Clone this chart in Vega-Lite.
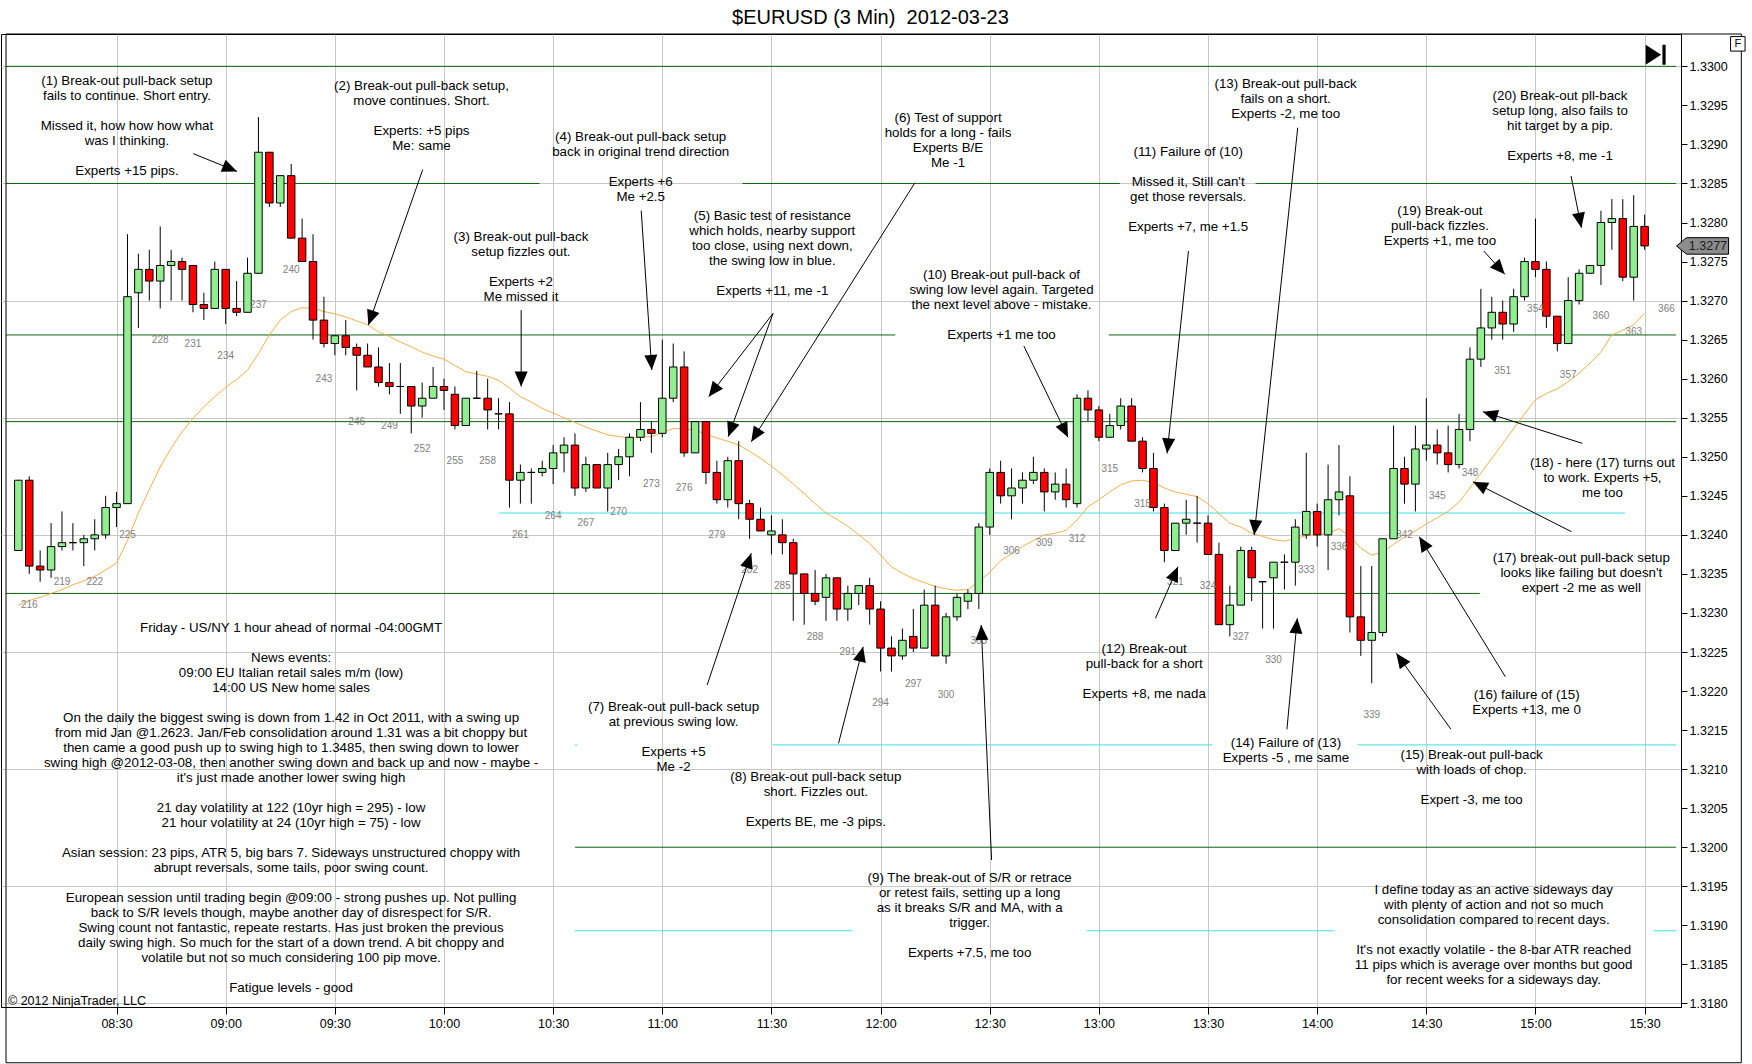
{
  "$schema": "https://vega.github.io/schema/vega-lite/v6.json",
  "width": 1680,
  "height": 973,
  "autosize": {"type": "none"},
  "padding": {"left": 1, "top": 34, "right": 71, "bottom": 57},
  "background": "white",
  "config": {
    "font": "Liberation Sans",
    "view": {"stroke": "black", "strokeWidth": 1}
  },
  "resolve": {"axis": {"x": "independent", "y": "independent"}},
  "datasets": {
    "candles": [
      {"bar":215,"open":1.3238,"high":1.3247,"low":1.3238,"close":1.3247,"ema":1.3231},
      {"bar":216,"open":1.3247,"high":1.32475,"low":1.3235,"close":1.3236,"ema":1.32316},
      {"bar":217,"open":1.3236,"high":1.3238,"low":1.3234,"close":1.32355,"ema":1.3232},
      {"bar":218,"open":1.32355,"high":1.32415,"low":1.32345,"close":1.32385,"ema":1.32325},
      {"bar":219,"open":1.32385,"high":1.3243,"low":1.3238,"close":1.3239,"ema":1.3233},
      {"bar":220,"open":1.3239,"high":1.32415,"low":1.3238,"close":1.3239,"ema":1.32336},
      {"bar":221,"open":1.3239,"high":1.324,"low":1.3236,"close":1.32395,"ema":1.32341},
      {"bar":222,"open":1.32395,"high":1.3242,"low":1.3238,"close":1.324,"ema":1.32347},
      {"bar":223,"open":1.324,"high":1.3245,"low":1.32395,"close":1.32435,"ema":1.32355},
      {"bar":224,"open":1.32435,"high":1.32455,"low":1.3241,"close":1.3244,"ema":1.32364},
      {"bar":225,"open":1.3244,"high":1.32785,"low":1.3244,"close":1.32705,"ema":1.32393},
      {"bar":226,"open":1.3271,"high":1.3276,"low":1.32665,"close":1.3274,"ema":1.32428},
      {"bar":227,"open":1.3274,"high":1.32765,"low":1.327,"close":1.32725,"ema":1.32458},
      {"bar":228,"open":1.32725,"high":1.32795,"low":1.3269,"close":1.32745,"ema":1.32487},
      {"bar":229,"open":1.32745,"high":1.32765,"low":1.327,"close":1.3275,"ema":1.32511},
      {"bar":230,"open":1.3275,"high":1.32755,"low":1.327,"close":1.3274,"ema":1.32532},
      {"bar":231,"open":1.32745,"high":1.32745,"low":1.32685,"close":1.32695,"ema":1.32549},
      {"bar":232,"open":1.32695,"high":1.3271,"low":1.32675,"close":1.3269,"ema":1.32564},
      {"bar":233,"open":1.3269,"high":1.3275,"low":1.3269,"close":1.3274,"ema":1.32577},
      {"bar":234,"open":1.3274,"high":1.3274,"low":1.3267,"close":1.3269,"ema":1.32589},
      {"bar":235,"open":1.3269,"high":1.32725,"low":1.3268,"close":1.32685,"ema":1.32599},
      {"bar":236,"open":1.32685,"high":1.32755,"low":1.32685,"close":1.32735,"ema":1.32611},
      {"bar":237,"open":1.32735,"high":1.32935,"low":1.32735,"close":1.3289,"ema":1.32632},
      {"bar":238,"open":1.3289,"high":1.3289,"low":1.3282,"close":1.32825,"ema":1.32656},
      {"bar":239,"open":1.32825,"high":1.3286,"low":1.3282,"close":1.3286,"ema":1.32675},
      {"bar":240,"open":1.3286,"high":1.32875,"low":1.3278,"close":1.3278,"ema":1.32686},
      {"bar":241,"open":1.3278,"high":1.32805,"low":1.3275,"close":1.3275,"ema":1.32691},
      {"bar":242,"open":1.3275,"high":1.32785,"low":1.3265,"close":1.32675,"ema":1.3269},
      {"bar":243,"open":1.32675,"high":1.32705,"low":1.3264,"close":1.32645,"ema":1.32686},
      {"bar":244,"open":1.32645,"high":1.32655,"low":1.3263,"close":1.32655,"ema":1.32683},
      {"bar":245,"open":1.32655,"high":1.32675,"low":1.3263,"close":1.3264,"ema":1.32679},
      {"bar":246,"open":1.3264,"high":1.32645,"low":1.32585,"close":1.3263,"ema":1.32674},
      {"bar":247,"open":1.3263,"high":1.32645,"low":1.32615,"close":1.32615,"ema":1.32669},
      {"bar":248,"open":1.32615,"high":1.3264,"low":1.3259,"close":1.32595,"ema":1.3266},
      {"bar":249,"open":1.32595,"high":1.3262,"low":1.3258,"close":1.3259,"ema":1.32654},
      {"bar":250,"open":1.3259,"high":1.3262,"low":1.32555,"close":1.3259,"ema":1.32647},
      {"bar":251,"open":1.3259,"high":1.3259,"low":1.3253,"close":1.32565,"ema":1.32641},
      {"bar":252,"open":1.32565,"high":1.32595,"low":1.3255,"close":1.32575,"ema":1.32634},
      {"bar":253,"open":1.32575,"high":1.32615,"low":1.32575,"close":1.3259,"ema":1.32629},
      {"bar":254,"open":1.3259,"high":1.326,"low":1.3256,"close":1.32585,"ema":1.32625},
      {"bar":255,"open":1.3258,"high":1.3259,"low":1.32535,"close":1.3254,"ema":1.32617},
      {"bar":256,"open":1.3254,"high":1.32575,"low":1.3254,"close":1.32575,"ema":1.32609},
      {"bar":257,"open":1.32575,"high":1.3261,"low":1.32575,"close":1.32575,"ema":1.32606},
      {"bar":258,"open":1.32575,"high":1.326,"low":1.32535,"close":1.3256,"ema":1.32603},
      {"bar":259,"open":1.32555,"high":1.32575,"low":1.32535,"close":1.32555,"ema":1.32598},
      {"bar":260,"open":1.32555,"high":1.3257,"low":1.32435,"close":1.3247,"ema":1.32588},
      {"bar":261,"open":1.3247,"high":1.3249,"low":1.3244,"close":1.3248,"ema":1.32577},
      {"bar":262,"open":1.3248,"high":1.32485,"low":1.3244,"close":1.3248,"ema":1.3257},
      {"bar":263,"open":1.3248,"high":1.32495,"low":1.32475,"close":1.32485,"ema":1.32562},
      {"bar":264,"open":1.32485,"high":1.32515,"low":1.32465,"close":1.32505,"ema":1.32556},
      {"bar":265,"open":1.32505,"high":1.32525,"low":1.3248,"close":1.32515,"ema":1.3255},
      {"bar":266,"open":1.32515,"high":1.3253,"low":1.3245,"close":1.3246,"ema":1.32544},
      {"bar":267,"open":1.3246,"high":1.325,"low":1.32455,"close":1.3249,"ema":1.32538},
      {"bar":268,"open":1.3249,"high":1.3249,"low":1.3246,"close":1.3246,"ema":1.32533},
      {"bar":269,"open":1.3246,"high":1.32505,"low":1.3243,"close":1.3249,"ema":1.32528},
      {"bar":270,"open":1.3249,"high":1.3251,"low":1.3247,"close":1.325,"ema":1.32526},
      {"bar":271,"open":1.325,"high":1.3253,"low":1.32475,"close":1.32525,"ema":1.32524},
      {"bar":272,"open":1.32525,"high":1.3257,"low":1.3252,"close":1.32535,"ema":1.32525},
      {"bar":273,"open":1.32535,"high":1.32545,"low":1.32505,"close":1.3253,"ema":1.32526},
      {"bar":274,"open":1.3253,"high":1.3265,"low":1.32525,"close":1.32575,"ema":1.32531},
      {"bar":275,"open":1.32575,"high":1.32645,"low":1.3257,"close":1.32615,"ema":1.32536},
      {"bar":276,"open":1.32615,"high":1.32635,"low":1.325,"close":1.32505,"ema":1.32536},
      {"bar":277,"open":1.32505,"high":1.32545,"low":1.32505,"close":1.32545,"ema":1.32534},
      {"bar":278,"open":1.32545,"high":1.32545,"low":1.32465,"close":1.3248,"ema":1.32529},
      {"bar":279,"open":1.3248,"high":1.32495,"low":1.3244,"close":1.32445,"ema":1.32524},
      {"bar":280,"open":1.32445,"high":1.325,"low":1.32435,"close":1.32495,"ema":1.3252},
      {"bar":281,"open":1.32495,"high":1.3252,"low":1.3242,"close":1.3244,"ema":1.32515},
      {"bar":282,"open":1.3244,"high":1.32445,"low":1.32395,"close":1.3242,"ema":1.32507},
      {"bar":283,"open":1.3242,"high":1.32435,"low":1.32405,"close":1.32405,"ema":1.32498},
      {"bar":284,"open":1.324,"high":1.32425,"low":1.32375,"close":1.32405,"ema":1.32488},
      {"bar":285,"open":1.324,"high":1.3242,"low":1.32375,"close":1.3239,"ema":1.32477},
      {"bar":286,"open":1.3239,"high":1.32395,"low":1.3229,"close":1.3235,"ema":1.32465},
      {"bar":287,"open":1.3235,"high":1.3235,"low":1.32285,"close":1.32325,"ema":1.32453},
      {"bar":288,"open":1.32325,"high":1.32355,"low":1.3231,"close":1.32315,"ema":1.3244},
      {"bar":289,"open":1.3232,"high":1.3235,"low":1.3229,"close":1.32345,"ema":1.32428},
      {"bar":290,"open":1.32345,"high":1.32345,"low":1.3229,"close":1.32305,"ema":1.3242},
      {"bar":291,"open":1.32305,"high":1.32335,"low":1.3229,"close":1.32325,"ema":1.32411},
      {"bar":292,"open":1.32325,"high":1.32335,"low":1.3231,"close":1.32335,"ema":1.324},
      {"bar":293,"open":1.32335,"high":1.32345,"low":1.32285,"close":1.32305,"ema":1.32389},
      {"bar":294,"open":1.32305,"high":1.32315,"low":1.32225,"close":1.32255,"ema":1.32374},
      {"bar":295,"open":1.32255,"high":1.3227,"low":1.32225,"close":1.32245,"ema":1.32359},
      {"bar":296,"open":1.32245,"high":1.3228,"low":1.3224,"close":1.32265,"ema":1.32351},
      {"bar":297,"open":1.3227,"high":1.32305,"low":1.3225,"close":1.32255,"ema":1.32344},
      {"bar":298,"open":1.32255,"high":1.3233,"low":1.32255,"close":1.3231,"ema":1.32339},
      {"bar":299,"open":1.3231,"high":1.32335,"low":1.32245,"close":1.32245,"ema":1.32334},
      {"bar":300,"open":1.32245,"high":1.323,"low":1.32235,"close":1.32295,"ema":1.32331},
      {"bar":301,"open":1.32295,"high":1.32325,"low":1.3229,"close":1.3232,"ema":1.32329},
      {"bar":302,"open":1.32315,"high":1.3233,"low":1.32305,"close":1.32325,"ema":1.3233},
      {"bar":303,"open":1.32325,"high":1.32415,"low":1.32305,"close":1.3241,"ema":1.3234},
      {"bar":304,"open":1.3241,"high":1.32485,"low":1.324,"close":1.3248,"ema":1.32352},
      {"bar":305,"open":1.3248,"high":1.32495,"low":1.3244,"close":1.3245,"ema":1.32367},
      {"bar":306,"open":1.3245,"high":1.32485,"low":1.3242,"close":1.3246,"ema":1.32376},
      {"bar":307,"open":1.3246,"high":1.3248,"low":1.3244,"close":1.3247,"ema":1.32385},
      {"bar":308,"open":1.3247,"high":1.325,"low":1.32465,"close":1.3248,"ema":1.32393},
      {"bar":309,"open":1.3248,"high":1.32485,"low":1.3243,"close":1.32455,"ema":1.324},
      {"bar":310,"open":1.32455,"high":1.3248,"low":1.32445,"close":1.32465,"ema":1.32402},
      {"bar":311,"open":1.32465,"high":1.32485,"low":1.32435,"close":1.32445,"ema":1.32406},
      {"bar":312,"open":1.3244,"high":1.3258,"low":1.32435,"close":1.32575,"ema":1.32419},
      {"bar":313,"open":1.32575,"high":1.32585,"low":1.32545,"close":1.3256,"ema":1.32436},
      {"bar":314,"open":1.3256,"high":1.32565,"low":1.3252,"close":1.32525,"ema":1.32445},
      {"bar":315,"open":1.32525,"high":1.32555,"low":1.32525,"close":1.3254,"ema":1.32455},
      {"bar":316,"open":1.3254,"high":1.32575,"low":1.32535,"close":1.32565,"ema":1.32464},
      {"bar":317,"open":1.32565,"high":1.32575,"low":1.3252,"close":1.3252,"ema":1.32469},
      {"bar":318,"open":1.3252,"high":1.32525,"low":1.3248,"close":1.32485,"ema":1.3247},
      {"bar":319,"open":1.32485,"high":1.32505,"low":1.3243,"close":1.32435,"ema":1.32467},
      {"bar":320,"open":1.32435,"high":1.3244,"low":1.32365,"close":1.3238,"ema":1.3246},
      {"bar":321,"open":1.3238,"high":1.32415,"low":1.3238,"close":1.32415,"ema":1.32455},
      {"bar":322,"open":1.32415,"high":1.32445,"low":1.324,"close":1.3242,"ema":1.32452},
      {"bar":323,"open":1.32415,"high":1.3245,"low":1.3239,"close":1.32415,"ema":1.32449},
      {"bar":324,"open":1.32415,"high":1.32425,"low":1.32375,"close":1.32375,"ema":1.3244},
      {"bar":325,"open":1.32375,"high":1.3239,"low":1.32285,"close":1.32285,"ema":1.32427},
      {"bar":326,"open":1.32285,"high":1.32335,"low":1.3227,"close":1.3231,"ema":1.32415},
      {"bar":327,"open":1.3231,"high":1.32385,"low":1.3231,"close":1.3238,"ema":1.3241},
      {"bar":328,"open":1.3238,"high":1.32385,"low":1.32315,"close":1.32345,"ema":1.32402},
      {"bar":329,"open":1.3234,"high":1.3234,"low":1.3228,"close":1.3234,"ema":1.32398},
      {"bar":330,"open":1.32345,"high":1.32365,"low":1.3228,"close":1.32365,"ema":1.32394},
      {"bar":331,"open":1.32365,"high":1.32375,"low":1.3233,"close":1.32365,"ema":1.32392},
      {"bar":332,"open":1.32365,"high":1.3242,"low":1.32335,"close":1.3241,"ema":1.32395},
      {"bar":333,"open":1.324,"high":1.32505,"low":1.32395,"close":1.3243,"ema":1.32399},
      {"bar":334,"open":1.3243,"high":1.3244,"low":1.32385,"close":1.324,"ema":1.324},
      {"bar":335,"open":1.324,"high":1.3249,"low":1.32355,"close":1.32445,"ema":1.32402},
      {"bar":336,"open":1.32445,"high":1.32515,"low":1.32425,"close":1.32455,"ema":1.32408},
      {"bar":337,"open":1.3245,"high":1.32475,"low":1.32275,"close":1.32295,"ema":1.32398},
      {"bar":338,"open":1.32295,"high":1.3236,"low":1.32245,"close":1.32265,"ema":1.32383},
      {"bar":339,"open":1.32265,"high":1.3236,"low":1.3221,"close":1.32275,"ema":1.32374},
      {"bar":340,"open":1.32275,"high":1.32395,"low":1.3227,"close":1.32395,"ema":1.32378},
      {"bar":341,"open":1.32395,"high":1.3254,"low":1.32395,"close":1.32485,"ema":1.32388},
      {"bar":342,"open":1.32485,"high":1.325,"low":1.3244,"close":1.32465,"ema":1.32397},
      {"bar":343,"open":1.32465,"high":1.3254,"low":1.3243,"close":1.3251,"ema":1.32405},
      {"bar":344,"open":1.3251,"high":1.32575,"low":1.32495,"close":1.32515,"ema":1.32414},
      {"bar":345,"open":1.32515,"high":1.32535,"low":1.3249,"close":1.32505,"ema":1.32422},
      {"bar":346,"open":1.32505,"high":1.3254,"low":1.3248,"close":1.3249,"ema":1.3243},
      {"bar":347,"open":1.3249,"high":1.32555,"low":1.32485,"close":1.32535,"ema":1.32442},
      {"bar":348,"open":1.32535,"high":1.3264,"low":1.3252,"close":1.32625,"ema":1.3246},
      {"bar":349,"open":1.32625,"high":1.32715,"low":1.32615,"close":1.32665,"ema":1.32479},
      {"bar":350,"open":1.32665,"high":1.32705,"low":1.3265,"close":1.32685,"ema":1.32498},
      {"bar":351,"open":1.32685,"high":1.327,"low":1.3265,"close":1.3267,"ema":1.32517},
      {"bar":352,"open":1.3267,"high":1.32715,"low":1.3266,"close":1.32705,"ema":1.32536},
      {"bar":353,"open":1.32705,"high":1.32755,"low":1.327,"close":1.3275,"ema":1.32555},
      {"bar":354,"open":1.3275,"high":1.32805,"low":1.3273,"close":1.3274,"ema":1.32573},
      {"bar":355,"open":1.3274,"high":1.3275,"low":1.32665,"close":1.3268,"ema":1.32581},
      {"bar":356,"open":1.3268,"high":1.3268,"low":1.32635,"close":1.32645,"ema":1.32587},
      {"bar":357,"open":1.32645,"high":1.3273,"low":1.32645,"close":1.327,"ema":1.32596},
      {"bar":358,"open":1.327,"high":1.3274,"low":1.32695,"close":1.32735,"ema":1.32607},
      {"bar":359,"open":1.32735,"high":1.32745,"low":1.32735,"close":1.32745,"ema":1.3262},
      {"bar":360,"open":1.32745,"high":1.32815,"low":1.3272,"close":1.328,"ema":1.32634},
      {"bar":361,"open":1.328,"high":1.3283,"low":1.32765,"close":1.32805,"ema":1.32656},
      {"bar":362,"open":1.32805,"high":1.3283,"low":1.32725,"close":1.3273,"ema":1.32662},
      {"bar":363,"open":1.3273,"high":1.32835,"low":1.327,"close":1.32795,"ema":1.32669},
      {"bar":364,"open":1.32795,"high":1.3281,"low":1.32765,"close":1.3277,"ema":1.32684}
    ],
    "levels": [
      {"price":1.33,"fromBar":213.871,"toBar":366.876,"kind":"S/R"},
      {"price":1.3285,"fromBar":213.871,"toBar":262.75,"kind":"S/R"},
      {"price":1.3285,"fromBar":281.36,"toBar":315.92,"kind":"S/R"},
      {"price":1.3285,"fromBar":328.35,"toBar":366.876,"kind":"S/R"},
      {"price":1.32656,"fromBar":213.871,"toBar":295.35,"kind":"S/R"},
      {"price":1.32656,"fromBar":314.9,"toBar":366.876,"kind":"S/R"},
      {"price":1.32545,"fromBar":213.871,"toBar":366.876,"kind":"S/R"},
      {"price":1.32325,"fromBar":213.871,"toBar":348.9,"kind":"S/R"},
      {"price":1.32,"fromBar":266.0,"toBar":366.876,"kind":"S/R"},
      {"price":1.32428,"fromBar":259.05,"toBar":362.2,"kind":"swing"},
      {"price":1.32131,"fromBar":266.0,"toBar":266.2,"kind":"swing"},
      {"price":1.32131,"fromBar":284.1,"toBar":324.4,"kind":"swing"},
      {"price":1.32131,"fromBar":337.7,"toBar":366.876,"kind":"swing"},
      {"price":1.31893,"fromBar":266.0,"toBar":291.4,"kind":"swing"},
      {"price":1.31893,"fromBar":312.9,"toBar":335.6,"kind":"swing"},
      {"price":1.31893,"fromBar":364.8,"toBar":366.876,"kind":"swing"}
    ],
    "arrows": [
      {"fromBar":231.03,"fromPrice":1.328882,"toBar":235.04,"toPrice":1.328654},
      {"fromBar":252.05,"fromPrice":1.328677,"toBar":247.07,"toPrice":1.326687},
      {"fromBar":261.07,"fromPrice":1.326879,"toBar":261.07,"toPrice":1.325901},
      {"fromBar":272.07,"fromPrice":1.328151,"toBar":273.04,"toPrice":1.326111},
      {"fromBar":284.15,"fromPrice":1.326837,"toBar":278.25,"toPrice":1.325769},
      {"fromBar":284.15,"fromPrice":1.326837,"toBar":280.04,"toPrice":1.325257},
      {"fromBar":297.15,"fromPrice":1.328509,"toBar":282.15,"toPrice":1.325193},
      {"fromBar":278.11,"fromPrice":1.322077,"toBar":282.15,"toPrice":1.323764},
      {"fromBar":290.15,"fromPrice":1.321331,"toBar":292.4,"toPrice":1.322567},
      {"fromBar":304.17,"fromPrice":1.319836,"toBar":303.22,"toPrice":1.322846},
      {"fromBar":307.13,"fromPrice":1.326418,"toBar":311.17,"toPrice":1.325249},
      {"fromBar":322.21,"fromPrice":1.327635,"toBar":320.25,"toPrice":1.325044},
      {"fromBar":319.18,"fromPrice":1.322931,"toBar":321.25,"toPrice":1.323592},
      {"fromBar":332.22,"fromPrice":1.329214,"toBar":328.23,"toPrice":1.323998},
      {"fromBar":331.23,"fromPrice":1.32151,"toBar":332.18,"toPrice":1.322931},
      {"fromBar":346.26,"fromPrice":1.32151,"toBar":341.25,"toPrice":1.322483},
      {"fromBar":351.24,"fromPrice":1.322183,"toBar":343.35,"toPrice":1.323976},
      {"fromBar":357.31,"fromPrice":1.32404,"toBar":348.27,"toPrice":1.32468},
      {"fromBar":358.29,"fromPrice":1.325172,"toBar":349.18,"toPrice":1.325577},
      {"fromBar":349.27,"fromPrice":1.327635,"toBar":351.19,"toPrice":1.327336},
      {"fromBar":357.26,"fromPrice":1.328595,"toBar":358.21,"toPrice":1.327933}
    ],
    "notes": [
      {"bar":224.95,"price":1.3299,"note":"(1) Break-out pull-back setup\nfails to continue. Short entry."},
      {"bar":224.95,"price":1.329324,"note":"Missed it, how how how what\nwas I thinking."},
      {"bar":224.95,"price":1.328747,"note":"Experts +15 pips."},
      {"bar":251.94,"price":1.329832,"note":"(2) Break-out pull-back setup,\nmove continues. Short."},
      {"bar":251.94,"price":1.329256,"note":"Experts: +5 pips\nMe: same"},
      {"bar":261.05,"price":1.327902,"note":"(3) Break-out pull-back\nsetup fizzles out."},
      {"bar":261.05,"price":1.327326,"note":"Experts +2\nMe missed it"},
      {"bar":272.02,"price":1.329179,"note":"(4) Break-out pull-back setup\nback in original trend direction"},
      {"bar":272.02,"price":1.328603,"note":"Experts +6\nMe +2.5"},
      {"bar":284.08,"price":1.328167,"note":"(5) Basic test of resistance\nwhich holds, nearby support\ntoo close, using next down,\nthe swing low in blue."},
      {"bar":284.08,"price":1.327207,"note":"Experts +11, me -1"},
      {"bar":300.18,"price":1.329422,"note":"(6) Test of support\nholds for a long - fails\nExperts B/E\nMe -1"},
      {"bar":275.03,"price":1.32188,"note":"(7) Break-out pull-back setup\nat previous swing low."},
      {"bar":275.03,"price":1.321304,"note":"Experts +5\nMe -2"},
      {"bar":288.07,"price":1.320983,"note":"(8) Break-out pull-back setup\nshort. Fizzles out."},
      {"bar":288.07,"price":1.320407,"note":"Experts BE, me -3 pips."},
      {"bar":302.16,"price":1.31969,"note":"(9) The break-out of S/R or retrace\nor retest fails, setting up a long\nas it breaks S/R and MA, with a\ntrigger."},
      {"bar":302.16,"price":1.31873,"note":"Experts +7.5, me too"},
      {"bar":305.08,"price":1.327417,"note":"(10) Break-out pull-back of\nswing low level again. Targeted\nthe next level above - mistake."},
      {"bar":305.08,"price":1.326649,"note":"Experts +1 me too"},
      {"bar":322.18,"price":1.328987,"note":"(11) Failure of (10)"},
      {"bar":322.18,"price":1.328603,"note":"Missed it, Still can't\nget those reversals."},
      {"bar":322.18,"price":1.328027,"note":"Experts +7, me +1.5"},
      {"bar":318.15,"price":1.322623,"note":"(12) Break-out\npull-back for a short"},
      {"bar":318.15,"price":1.322047,"note":"Experts +8, me nada"},
      {"bar":331.11,"price":1.329858,"note":"(13) Break-out pull-back\nfails on a short.\nExperts -2, me too"},
      {"bar":331.14,"price":1.321424,"note":"(14) Failure of (13)\nExperts -5 , me same"},
      {"bar":348.15,"price":1.32127,"note":"(15) Break-out pull-back\nwith loads of chop."},
      {"bar":348.15,"price":1.320694,"note":"Expert -3, me too"},
      {"bar":353.19,"price":1.322039,"note":"(16) failure of (15)\nExperts +13, me 0"},
      {"bar":358.2,"price":1.323788,"note":"(17) break-out pull-back setup\nlooks like failing but doesn't\nexpert -2 me as well"},
      {"bar":360.14,"price":1.325004,"note":"(18) - here (17) turns out\nto work. Experts +5,\nme too"},
      {"bar":345.25,"price":1.328237,"note":"(19) Break-out\npull-back fizzles.\nExperts +1, me too"},
      {"bar":356.25,"price":1.329713,"note":"(20) Break-out pll-back\nsetup long, also fails to\nhit target by a pip."},
      {"bar":356.25,"price":1.328945,"note":"Experts +8, me -1"},
      {"bar":239.99,"price":1.322897,"note":"Friday - US/NY 1 hour ahead of normal -04:00GMT"},
      {"bar":239.99,"price":1.322513,"note":"News events:\n09:00 EU Italian retail sales m/m (low)\n14:00 US New home sales"},
      {"bar":239.99,"price":1.321744,"note":"On the daily the biggest swing is down from 1.42 in Oct 2011, with a swing up\nfrom mid Jan @1.2623. Jan/Feb consolidation around 1.31 was a bit choppy but\nthen came a good push up to swing high to 1.3485, then swing down to lower\nswing high @2012-03-08, then another swing down and back up and now - maybe -\nit's just made another lower swing high"},
      {"bar":239.99,"price":1.320592,"note":"21 day volatility at 122 (10yr high = 295) - low\n21 hour volatility at 24 (10yr high = 75) - low"},
      {"bar":239.99,"price":1.320016,"note":"Asian session: 23 pips, ATR 5, big bars 7. Sideways unstructured choppy with\nabrupt reversals, some tails, poor swing count."},
      {"bar":239.99,"price":1.319439,"note":"European session until trading begin @09:00 - strong pushes up. Not pulling\nback to S/R levels though, maybe another day of disrespect for S/R.\nSwing count not fantastic, repeate restarts. Has just broken the previous\ndaily swing high. So much for the start of a down trend. A bit choppy and\nvolatile but not so much considering 100 pip move."},
      {"bar":239.99,"price":1.318287,"note":"Fatigue levels - good"},
      {"bar":350.17,"price":1.319542,"note":"I define today as an active sideways day\nwith plenty of action and not so much\nconsolidation compared to recent days."},
      {"bar":350.17,"price":1.318774,"note":"It's not exactly volatile - the 8-bar ATR reached\n11 pips which is average over months but good\nfor recent weeks for a sideways day."}
    ]
  },
  "layer": [
    {
      "data": {"name": "levels"},
      "mark": {"type": "rule", "strokeWidth": 1},
      "encoding": {
        "x": {
          "field": "fromBar", "type": "quantitative",
          "scale": {"domain": [213.871, 366.876], "nice": false, "zero": false},
          "axis": {
            "title": null,
            "values": [224, 234, 244, 254, 264, 274, 284, 294, 304, 314, 324, 334, 344, 354, 364],
            "labelExpr": "timeFormat(datetime(2012, 2, 23, 8, 30 + (datum.value - 224) * 3), '%H:%M')",
            "grid": true, "gridColor": "#C8C8C8", "gridWidth": 1,
            "domainColor": "black", "tickColor": "black", "tickSize": 7,
            "labelColor": "black", "labelFont": "Liberation Sans", "labelFontSize": 12.5,
            "labelPadding": 3, "labelFlush": false, "labelOverlap": false
          }
        },
        "x2": {"field": "toBar"},
        "y": {
          "field": "price", "type": "quantitative",
          "scale": {"domain": [1.317954, 1.330414], "nice": false, "zero": false},
          "axis": {
            "title": null, "orient": "right",
            "values": [1.318, 1.3185, 1.319, 1.3195, 1.32, 1.3205, 1.321, 1.3215, 1.322, 1.3225, 1.323, 1.3235, 1.324, 1.3245, 1.325, 1.3255, 1.326, 1.3265, 1.327, 1.3275, 1.328, 1.3285, 1.329, 1.3295, 1.33],
            "format": ".4f",
            "grid": true, "gridColor": "#C8C8C8", "gridWidth": 1,
            "gridOpacity": {"condition": {"test": "abs((round(datum.value * 10000) - 13195) % 15) < 0.5", "value": 1}, "value": 0},
            "domainColor": "black", "tickColor": "black", "tickSize": 6,
            "labelColor": "black", "labelFont": "Liberation Sans", "labelFontSize": 12.5,
            "labelPadding": 2, "labelOverlap": false, "labelFlush": false
          }
        },
        "color": {"field": "kind", "type": "nominal", "scale": {"domain": ["S/R", "swing"], "range": ["#0A640A", "#3FE0E4"]}, "legend": null}
      }
    },
    {
      "data": {"name": "candles"},
      "mark": {"type": "line", "color": "#F2B04A", "strokeWidth": 1},
      "encoding": {
        "x": {"field": "bar", "type": "quantitative", "scale": {"domain": [213.871, 366.876], "nice": false, "zero": false}, "axis": null},
        "y": {"field": "ema", "type": "quantitative", "scale": {"domain": [1.317954, 1.330414], "nice": false, "zero": false}, "axis": null}
      }
    },
    {
      "data": {"name": "candles"},
      "mark": {"type": "rule", "color": "black", "strokeWidth": 1},
      "encoding": {
        "x": {"field": "bar", "type": "quantitative", "scale": {"domain": [213.871, 366.876], "nice": false, "zero": false}, "axis": null},
        "y": {"field": "low", "type": "quantitative", "scale": {"domain": [1.317954, 1.330414], "nice": false, "zero": false}, "axis": null},
        "y2": {"field": "high"}
      }
    },
    {
      "data": {"name": "candles"},
      "mark": {"type": "bar", "size": 7.5, "stroke": "black", "strokeWidth": 1},
      "encoding": {
        "x": {"field": "bar", "type": "quantitative", "scale": {"domain": [213.871, 366.876], "nice": false, "zero": false}, "axis": null},
        "y": {"field": "open", "type": "quantitative", "scale": {"domain": [1.317954, 1.330414], "nice": false, "zero": false}, "axis": null},
        "y2": {"field": "close"},
        "color": {"condition": {"test": "datum.close >= datum.open", "value": "#90EE90"}, "value": "#FF0000"}
      }
    },
    {
      "data": {"name": "candles"},
      "transform": [{"filter": "datum.bar % 3 === 0"}],
      "mark": {"type": "text", "dy": 31.5, "fontSize": 10, "color": "#808080", "align": "center", "baseline": "middle", "font": "Liberation Sans"},
      "encoding": {
        "x": {"field": "bar", "type": "quantitative", "scale": {"domain": [213.871, 366.876], "nice": false, "zero": false}, "axis": null},
        "y": {"field": "low", "type": "quantitative", "scale": {"domain": [1.317954, 1.330414], "nice": false, "zero": false}, "axis": null},
        "text": {"field": "bar", "type": "quantitative", "format": "d"}
      }
    },
    {
      "data": {"values": [{"bar": 366, "price": 1.3273, "label": "366"}]},
      "mark": {"type": "text", "dy": 31.5, "fontSize": 10, "color": "#808080", "align": "center", "baseline": "middle", "font": "Liberation Sans"},
      "encoding": {
        "x": {"field": "bar", "type": "quantitative", "scale": {"domain": [213.871, 366.876], "nice": false, "zero": false}, "axis": null},
        "y": {"field": "price", "type": "quantitative", "scale": {"domain": [1.317954, 1.330414], "nice": false, "zero": false}, "axis": null},
        "text": {"field": "label"}
      }
    },
    {
      "data": {"name": "arrows"},
      "mark": {"type": "rule", "color": "black", "strokeWidth": 1},
      "encoding": {
        "x": {"field": "fromBar", "type": "quantitative", "scale": {"domain": [213.871, 366.876], "nice": false, "zero": false}, "axis": null},
        "y": {"field": "fromPrice", "type": "quantitative", "scale": {"domain": [1.317954, 1.330414], "nice": false, "zero": false}, "axis": null},
        "x2": {"field": "toBar"},
        "y2": {"field": "toPrice"}
      }
    },
    {
      "data": {"name": "arrows"},
      "mark": {
        "type": "point", "filled": true, "color": "black", "opacity": 1, "size": 225, "strokeWidth": 0,
        "shape": "M0,0 L0.87,2 L-0.87,2 Z",
        "angle": {"expr": "atan2(scale('x', datum.toBar) - scale('x', datum.fromBar), scale('y', datum.fromPrice) - scale('y', datum.toPrice)) * 180 / PI"}
      },
      "encoding": {
        "x": {"field": "toBar", "type": "quantitative", "scale": {"domain": [213.871, 366.876], "nice": false, "zero": false}, "axis": null},
        "y": {"field": "toPrice", "type": "quantitative", "scale": {"domain": [1.317954, 1.330414], "nice": false, "zero": false}, "axis": null}
      }
    },
    {
      "data": {"name": "notes"},
      "mark": {"type": "text", "align": "center", "baseline": "top", "fontSize": 13.33, "lineHeight": 15, "lineBreak": "\n", "color": "black", "font": "Liberation Sans"},
      "encoding": {
        "x": {"field": "bar", "type": "quantitative", "scale": {"domain": [213.871, 366.876], "nice": false, "zero": false}, "axis": null},
        "y": {"field": "price", "type": "quantitative", "scale": {"domain": [1.317954, 1.330414], "nice": false, "zero": false}, "axis": null},
        "text": {"field": "note"}
      }
    },
    {
      "data": {"values": [{"bar": 214.05, "price": 1.318114, "label": "© 2012 NinjaTrader, LLC"}]},
      "mark": {"type": "text", "align": "left", "baseline": "top", "fontSize": 12.5, "color": "black", "font": "Liberation Sans"},
      "encoding": {
        "x": {"field": "bar", "type": "quantitative", "scale": {"domain": [213.871, 366.876], "nice": false, "zero": false}, "axis": null},
        "y": {"field": "price", "type": "quantitative", "scale": {"domain": [1.317954, 1.330414], "nice": false, "zero": false}, "axis": null},
        "text": {"field": "label"}
      }
    },
    {
      "data": {"values": [{"bar": 293.07, "price": 1.33062, "label": "$EURUSD (3 Min) \u00a02012-03-23"}]},
      "mark": {"type": "text", "align": "center", "baseline": "middle", "fontSize": 20, "color": "black", "font": "Liberation Sans"},
      "encoding": {
        "x": {"field": "bar", "type": "quantitative", "scale": {"domain": [213.871, 366.876], "nice": false, "zero": false}, "axis": null},
        "y": {"field": "price", "type": "quantitative", "scale": {"domain": [1.317954, 1.330414], "nice": false, "zero": false}, "axis": null},
        "text": {"field": "label"}
      }
    },
    {
      "data": {"values": [{"x1": 213.871, "x2": 372.86, "y1": 1.330414, "y2": 1.31724}]},
      "mark": {"type": "rect", "filled": false, "color": "black", "strokeWidth": 1},
      "encoding": {
        "x": {"field": "x1", "type": "quantitative", "scale": {"domain": [213.871, 366.876], "nice": false, "zero": false}, "axis": null},
        "x2": {"field": "x2"},
        "y": {"field": "y1", "type": "quantitative", "scale": {"domain": [1.317954, 1.330414], "nice": false, "zero": false}, "axis": null},
        "y2": {"field": "y2"}
      }
    },
    {
      "data": {"values": [{"bar": 369.31, "price": 1.3277}]},
      "mark": {"type": "point", "filled": true, "fill": "#8C8C8C", "stroke": "black", "strokeWidth": 1, "opacity": 1, "size": 2704, "shape": "M-1,0 L-0.62,-0.317 L1,-0.317 L1,0.317 L-0.62,0.317 Z"},
      "encoding": {
        "x": {"field": "bar", "type": "quantitative", "scale": {"domain": [213.871, 366.876], "nice": false, "zero": false}, "axis": null},
        "y": {"field": "price", "type": "quantitative", "scale": {"domain": [1.317954, 1.330414], "nice": false, "zero": false}, "axis": null}
      }
    },
    {
      "data": {"values": [{"bar": 369.8, "price": 1.3277, "label": "1.3277"}]},
      "mark": {"type": "text", "align": "center", "baseline": "middle", "fontSize": 12.5, "color": "#1A1A1A", "font": "Liberation Sans"},
      "encoding": {
        "x": {"field": "bar", "type": "quantitative", "scale": {"domain": [213.871, 366.876], "nice": false, "zero": false}, "axis": null},
        "y": {"field": "price", "type": "quantitative", "scale": {"domain": [1.317954, 1.330414], "nice": false, "zero": false}, "axis": null},
        "text": {"field": "label"}
      }
    },
    {
      "data": {"values": [{"bar": 365.01, "price": 1.330147}]},
      "mark": {"type": "point", "filled": true, "color": "black", "opacity": 1, "strokeWidth": 0, "size": 400, "shape": "M-1,-1 L0.55,0 L-1,1 Z M0.68,-1 L1,-1 L1,1 L0.68,1 Z"},
      "encoding": {
        "x": {"field": "bar", "type": "quantitative", "scale": {"domain": [213.871, 366.876], "nice": false, "zero": false}, "axis": null},
        "y": {"field": "price", "type": "quantitative", "scale": {"domain": [1.317954, 1.330414], "nice": false, "zero": false}, "axis": null}
      }
    },
    {
      "data": {"values": [{"bar": 372.54, "price": 1.330288}]},
      "mark": {"type": "point", "shape": "square", "size": 210, "filled": true, "fill": "white", "stroke": "black", "strokeWidth": 1, "opacity": 1},
      "encoding": {
        "x": {"field": "bar", "type": "quantitative", "scale": {"domain": [213.871, 366.876], "nice": false, "zero": false}, "axis": null},
        "y": {"field": "price", "type": "quantitative", "scale": {"domain": [1.317954, 1.330414], "nice": false, "zero": false}, "axis": null}
      }
    },
    {
      "data": {"values": [{"bar": 372.54, "price": 1.330288, "label": "F"}]},
      "mark": {"type": "text", "align": "center", "baseline": "middle", "fontSize": 11, "color": "black", "font": "Liberation Sans"},
      "encoding": {
        "x": {"field": "bar", "type": "quantitative", "scale": {"domain": [213.871, 366.876], "nice": false, "zero": false}, "axis": null},
        "y": {"field": "price", "type": "quantitative", "scale": {"domain": [1.317954, 1.330414], "nice": false, "zero": false}, "axis": null},
        "text": {"field": "label"}
      }
    }
  ]
}
